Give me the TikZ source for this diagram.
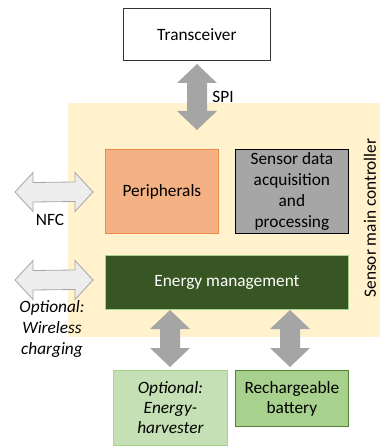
\documentclass[tikz,border=0pt]{standalone}
\usepackage{fontspec}
\setmainfont{Carlito}
\definecolor{bgyellow}{HTML}{FFF2CC}
\definecolor{perfill}{HTML}{F4B183}
\definecolor{perdraw}{HTML}{F08A4B}
\definecolor{sensfill}{HTML}{A6A6A6}
\definecolor{emfill}{HTML}{375623}
\definecolor{emdraw}{HTML}{A9D18E}
\definecolor{harvfill}{HTML}{C5E0B4}
\definecolor{harvdraw}{HTML}{A9D18E}
\definecolor{battfill}{HTML}{A9D18E}
\definecolor{battdraw}{HTML}{548235}
\definecolor{arrgray}{HTML}{A5A5A5}
\definecolor{arrlight}{HTML}{EDEDED}
\newcommand\VDArrow[3]{% x, top y, bottom y
  \fill[arrgray] (#1,#2) -- ++(20,19) -- ++(-10,0) -- (#1+10,#3-19) -- ++(10,0) -- (#1,#3) -- ++(-20,-19) -- ++(10,0) -- (#1-10,#2+19) -- ++(-10,0) -- cycle;}
\newcommand\HDArrow[3]{% y, left x, right x
  \filldraw[fill=arrlight,draw=arrgray,line width=0.8pt] (#2,#1) -- ++(18,-19.5) -- ++(0,10) -- (#3-18,#1-10) -- ++(0,-9.5) -- (#3,#1) -- ++(-18,19.5) -- ++(0,-10) -- (#2+18,#1+10) -- ++(0,9.5) -- cycle;}
\begin{document}
\begin{tikzpicture}[x=1pt,y=-1pt,
  every node/.style={font=\fontsize{17.3}{21}\selectfont, align=center, inner sep=0pt},
  box/.style={draw, line width=0.8pt, anchor=north west}]
\useasboundingbox (0,0) rectangle (380,446);
% background of controller
\fill[bgyellow] (68,103) rectangle (380,337);
\node[rotate=90] (ctrltext) at (370,218) {Sensor main controller};
% boxes
\node[box, draw=black!80, fill=white, minimum width=147pt, minimum height=52pt] (trans) at (123,8) {};
\node at (trans.center) {Transceiver};
\node[box, draw=perdraw, fill=perfill, minimum width=113pt, minimum height=84pt] (per) at (105,149) {};
\node at (per.center) {Peripherals};
\node[box, draw=black, fill=sensfill, minimum width=113pt, minimum height=84pt] (sens) at (235,149) {};
\node at (sens.center) {Sensor data\\acquisition\\and\\processing};
\node[box, draw=emdraw, fill=emfill, minimum width=243pt, minimum height=54pt] (em) at (105,255) {};
\node[text=white] at (em.center) {Energy management};
\node[box, draw=harvdraw, fill=harvfill, minimum width=114pt, minimum height=75pt] (harv) at (113,370) {};
\node[font=\fontsize{17.3}{20}\selectfont\itshape] at (harv.center) {Optional:\\Energy-\\harvester};
\node[box, draw=battdraw, fill=battfill, minimum width=113pt, minimum height=56pt] (batt) at (235,370) {};
\node[font=\fontsize{17.3}{20}\selectfont] at (batt.center) {Rechargeable\\battery};
% arrows
\VDArrow{197}{64}{130}
\node (spi) at (223,97) {SPI};
\VDArrow{170}{310}{367}
\VDArrow{290}{310}{367}
\HDArrow{192}{15}{93}
\node (nfc) at (50,220) {NFC};
\HDArrow{280}{15}{93}
\node[font=\fontsize{17.3}{21}\selectfont\itshape] (wl) at (52,329) {Optional:\\Wireless\\charging};
\end{tikzpicture}
\end{document}
